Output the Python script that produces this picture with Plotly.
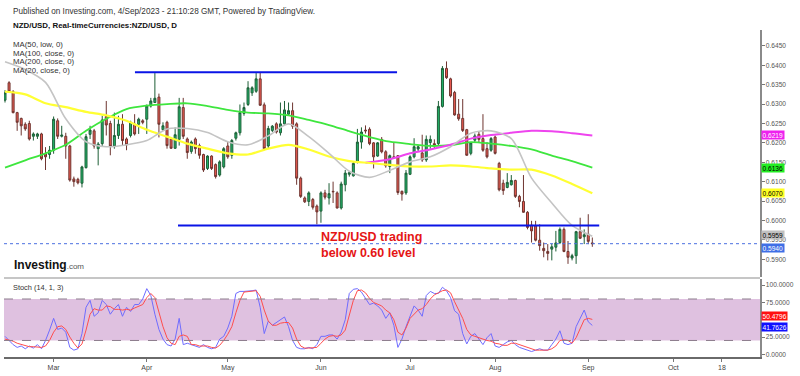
import pandas as pd
import plotly.graph_objects as go

# ---------------- data ----------------
dates = pd.bdate_range("2023-02-13", "2023-09-04")  # daily bars, 146

opens = [0.6310, 0.6355, 0.6332, 0.6278, 0.6263, 0.6248, 0.6250, 0.6217, 0.6217, 0.6223,
         0.6172, 0.6170, 0.6181, 0.6257, 0.6217, 0.6217, 0.6192, 0.6107, 0.6106, 0.6096,
         0.6136, 0.6222, 0.6231, 0.6185, 0.6198, 0.6268, 0.6250, 0.6192, 0.6219, 0.6248,
         0.6210, 0.6219, 0.6248, 0.6248, 0.6257, 0.6261, 0.6295, 0.6304, 0.6318, 0.6234,
         0.6253, 0.6210, 0.6186, 0.6209, 0.6291, 0.6210, 0.6178, 0.6210, 0.6193, 0.6170,
         0.6134, 0.6166, 0.6144, 0.6117, 0.6138, 0.6192, 0.6168, 0.6212, 0.6226, 0.6276,
         0.6299, 0.6329, 0.6333, 0.6365, 0.6298, 0.6192, 0.6232, 0.6249, 0.6226, 0.6249,
         0.6274, 0.6283, 0.6249, 0.6109, 0.6058, 0.6049, 0.6054, 0.6037, 0.6024, 0.6071,
         0.6058, 0.6075, 0.6071, 0.6032, 0.6092, 0.6119, 0.6115, 0.6151, 0.6202, 0.6233,
         0.6235, 0.6200, 0.6166, 0.6209, 0.6177, 0.6139, 0.6164, 0.6167, 0.6075, 0.6071,
         0.6119, 0.6164, 0.6184, 0.6174, 0.6156, 0.6201, 0.6198, 0.6198, 0.6294, 0.6392,
         0.6365, 0.6330, 0.6274, 0.6263, 0.6234, 0.6173, 0.6207, 0.6222, 0.6211, 0.6185,
         0.6181, 0.6215, 0.6147, 0.6096, 0.6085, 0.6092, 0.6103, 0.6062, 0.6049, 0.6021,
         0.5988, 0.5986, 0.5949, 0.5928, 0.5920, 0.5926, 0.5931, 0.5943, 0.5977, 0.5920,
         0.5903, 0.5909, 0.5971, 0.5958, 0.5965, 0.5942]
highs = [0.6336, 0.6359, 0.6336, 0.6280, 0.6265, 0.6253, 0.6257, 0.6227, 0.6226, 0.6226,
         0.6189, 0.6192, 0.6268, 0.6263, 0.6244, 0.6226, 0.6195, 0.6113, 0.6110, 0.6141,
         0.6223, 0.6244, 0.6236, 0.6202, 0.6270, 0.6308, 0.6257, 0.6278, 0.6270, 0.6274,
         0.6214, 0.6257, 0.6274, 0.6265, 0.6261, 0.6299, 0.6316, 0.6380, 0.6327, 0.6253,
         0.6257, 0.6214, 0.6240, 0.6316, 0.6316, 0.6214, 0.6206, 0.6214, 0.6198, 0.6172,
         0.6168, 0.6168, 0.6147, 0.6155, 0.6189, 0.6202, 0.6210, 0.6229, 0.6299, 0.6304,
         0.6359, 0.6346, 0.6380, 0.6382, 0.6304, 0.6244, 0.6246, 0.6253, 0.6304, 0.6308,
         0.6304, 0.6304, 0.6253, 0.6113, 0.6062, 0.6075, 0.6058, 0.6041, 0.6075, 0.6079,
         0.6096, 0.6100, 0.6075, 0.6100, 0.6130, 0.6127, 0.6151, 0.6236, 0.6240, 0.6245,
         0.6240, 0.6202, 0.6202, 0.6215, 0.6181, 0.6170, 0.6202, 0.6168, 0.6077, 0.6130,
         0.6168, 0.6212, 0.6194, 0.6221, 0.6219, 0.6219, 0.6209, 0.6308, 0.6398, 0.6410,
         0.6368, 0.6334, 0.6313, 0.6313, 0.6236, 0.6202, 0.6224, 0.6228, 0.6274, 0.6202,
         0.6215, 0.6219, 0.6151, 0.6105, 0.6122, 0.6117, 0.6105, 0.6066, 0.6117, 0.6024,
         0.5999, 0.5999, 0.5990, 0.5943, 0.5939, 0.5940, 0.5973, 0.5982, 0.5982, 0.5947,
         0.5914, 0.5973, 0.6007, 0.5977, 0.6016, 0.5956]
lows = [0.6304, 0.6329, 0.6276, 0.6231, 0.6219, 0.6231, 0.6206, 0.6206, 0.6210, 0.6155,
        0.6130, 0.6159, 0.6172, 0.6210, 0.6214, 0.6159, 0.6100, 0.6087, 0.6093, 0.6085,
        0.6134, 0.6210, 0.6185, 0.6142, 0.6192, 0.6219, 0.6168, 0.6185, 0.6210, 0.6193,
        0.6181, 0.6214, 0.6219, 0.6223, 0.6248, 0.6223, 0.6291, 0.6304, 0.6214, 0.6231,
        0.6185, 0.6185, 0.6185, 0.6193, 0.6210, 0.6159, 0.6172, 0.6172, 0.6159, 0.6125,
        0.6130, 0.6130, 0.6108, 0.6113, 0.6134, 0.6159, 0.6159, 0.6206, 0.6219, 0.6270,
        0.6295, 0.6321, 0.6329, 0.6295, 0.6181, 0.6185, 0.6228, 0.6224, 0.6219, 0.6245,
        0.6270, 0.6236, 0.6092, 0.6058, 0.6045, 0.6037, 0.6028, 0.5990, 0.5994, 0.6054,
        0.6041, 0.6045, 0.6031, 0.6028, 0.6075, 0.6113, 0.6113, 0.6147, 0.6185, 0.6224,
        0.6194, 0.6134, 0.6164, 0.6173, 0.6136, 0.6122, 0.6160, 0.6066, 0.6051, 0.6066,
        0.6117, 0.6160, 0.6177, 0.6151, 0.6151, 0.6185, 0.6185, 0.6194, 0.6291, 0.6365,
        0.6317, 0.6270, 0.6257, 0.6228, 0.6167, 0.6168, 0.6202, 0.6202, 0.6177, 0.6160,
        0.6177, 0.6170, 0.6075, 0.6066, 0.6083, 0.6090, 0.6058, 0.6034, 0.6020, 0.5977,
        0.5943, 0.5946, 0.5922, 0.5905, 0.5897, 0.5897, 0.5920, 0.5939, 0.5918, 0.5888,
        0.5897, 0.5888, 0.5952, 0.5939, 0.5939, 0.5932]
closes = [0.6329, 0.6332, 0.6278, 0.6253, 0.6244, 0.6236, 0.6210, 0.6223, 0.6223, 0.6159,
          0.6164, 0.6181, 0.6261, 0.6217, 0.6220, 0.6192, 0.6104, 0.6100, 0.6097, 0.6138,
          0.6216, 0.6233, 0.6192, 0.6197, 0.6259, 0.6246, 0.6191, 0.6219, 0.6248, 0.6206,
          0.6195, 0.6253, 0.6223, 0.6261, 0.6253, 0.6295, 0.6308, 0.6315, 0.6248, 0.6244,
          0.6193, 0.6186, 0.6221, 0.6293, 0.6217, 0.6175, 0.6202, 0.6185, 0.6168, 0.6130,
          0.6166, 0.6134, 0.6113, 0.6151, 0.6185, 0.6164, 0.6206, 0.6226, 0.6278, 0.6291,
          0.6342, 0.6342, 0.6365, 0.6297, 0.6185, 0.6237, 0.6243, 0.6228, 0.6249, 0.6285,
          0.6283, 0.6243, 0.6109, 0.6062, 0.6048, 0.6071, 0.6034, 0.6022, 0.6071, 0.6060,
          0.6069, 0.6074, 0.6032, 0.6094, 0.6122, 0.6123, 0.6147, 0.6202, 0.6228, 0.6231,
          0.6198, 0.6164, 0.6200, 0.6177, 0.6141, 0.6167, 0.6162, 0.6072, 0.6068, 0.6122,
          0.6164, 0.6190, 0.6190, 0.6156, 0.6209, 0.6209, 0.6194, 0.6294, 0.6392, 0.6368,
          0.6321, 0.6272, 0.6262, 0.6232, 0.6168, 0.6200, 0.6218, 0.6209, 0.6181, 0.6164,
          0.6211, 0.6173, 0.6079, 0.6077, 0.6098, 0.6103, 0.6062, 0.6049, 0.6021, 0.5982,
          0.5973, 0.5949, 0.5935, 0.5922, 0.5915, 0.5932, 0.5942, 0.5977, 0.5920, 0.5905,
          0.5909, 0.5971, 0.5954, 0.5963, 0.5946, 0.5940]

ma_idx = list(range(0, 146, 5))
ma50_low = [0.6332, 0.6325, 0.6302, 0.6292, 0.6280, 0.6271, 0.6257, 0.6234, 0.6216, 0.6198,
            0.6185, 0.6173, 0.6170, 0.6185, 0.6195, 0.6183, 0.6165, 0.6153, 0.6148, 0.6143,
            0.6139, 0.6139, 0.6142, 0.6139, 0.6134, 0.6131, 0.6131, 0.6116, 0.6094, 0.6070]
ma100 = [0.6136, 0.6155, 0.6173, 0.6195, 0.6231, 0.6262, 0.6287, 0.6296, 0.6300, 0.6302,
         0.6295, 0.6285, 0.6278, 0.6276, 0.6271, 0.6259, 0.6246, 0.6230, 0.6215, 0.6203,
         0.6197, 0.6192, 0.6194, 0.6202, 0.6198, 0.6192, 0.6183, 0.6167, 0.6153, 0.6136]
ma20 = [0.6409, 0.6389, 0.6356, 0.6262, 0.6203, 0.6190, 0.6195, 0.6206, 0.6236, 0.6237,
        0.6227, 0.6203, 0.6195, 0.6218, 0.6249, 0.6216, 0.6173, 0.6127, 0.6111, 0.6129,
        0.6151, 0.6164, 0.6190, 0.6225, 0.6231, 0.6211, 0.6109, 0.6045, 0.5987, 0.5959]
ma200_idx = [89, 95, 100, 105, 110, 115, 120, 125, 130, 135, 140, 145]
ma200 = [0.6149, 0.6158, 0.6173, 0.6183, 0.6195, 0.6211, 0.6220, 0.6226, 0.6231, 0.6230,
         0.6225, 0.6219]

stoch_k = [26, 20, 14, 10, 12, 8, 12, 9, 14, 8,
           20, 35, 52, 36, 38, 32, 10, 6, 8, 30,
           68, 78, 55, 60, 78, 72, 58, 66, 72, 55,
           68, 62, 72, 72, 80, 95, 85, 58, 36, 22,
           14, 12, 22, 52, 14, 16, 14, 12, 10, 14,
           10, 8, 10, 22, 26, 38, 55, 88, 91, 91,
           91, 92, 93, 68, 30, 48, 42, 46, 50, 54,
           40, 20, 10, 8, 8, 10, 8, 14, 26, 26,
           28, 28, 22, 32, 50, 88, 94, 95, 90, 80,
           72, 74, 70, 64, 52, 60, 42, 10, 22, 40,
           55, 70, 64, 55, 85, 91, 88, 88, 97, 92,
           82, 63, 58, 30, 15, 26, 30, 22, 14, 24,
           30, 12, 10, 14, 18, 20, 14, 10, 8, 6,
           4, 6, 8, 6, 6, 14, 22, 34, 16, 14,
           16, 40, 52, 64, 47, 41.7626]
stoch_d = [22, 21, 19, 16, 14, 12, 11, 11, 11, 10,
           12, 20, 32, 40, 41, 36, 25, 16, 9, 15,
           35, 58, 66, 64, 64, 70, 69, 65, 65, 64,
           65, 64, 67, 69, 72, 82, 88, 82, 62, 40,
           24, 16, 14, 26, 28, 26, 14, 14, 12, 12,
           12, 10, 9, 13, 20, 29, 40, 60, 78, 90,
           91, 91, 92, 84, 64, 48, 42, 42, 45, 46,
           46, 38, 22, 12, 9, 9, 9, 10, 16, 22,
           26, 27, 26, 28, 35, 56, 78, 92, 93, 89,
           81, 75, 72, 70, 64, 60, 50, 32, 28, 38,
           52, 58, 64, 66, 72, 80, 86, 89, 92, 93,
           89, 76, 64, 52, 36, 28, 26, 24, 21, 20,
           19, 16, 15, 13, 13, 16, 16, 14, 12, 10,
           7, 6, 6, 6, 6, 8, 12, 20, 21, 20,
           16, 24, 36, 50, 52, 50.4796]

# drawn support / resistance lines (date, date, price)
res_line = ["2023-03-29 02:00", "2023-06-27 19:00", 0.6382]
sup_line = ["2023-04-12 17:00", "2023-09-05 17:00", 0.5987]

price_ticks = [0.5900, 0.5950, 0.6000, 0.6050, 0.6100, 0.6150, 0.6200, 0.6250,
               0.6300, 0.6350, 0.6400, 0.6450]
stoch_ticks = [0, 25, 75, 100]
x_tick_dates = ["2023-03-01", "2023-04-03", "2023-05-01", "2023-06-01", "2023-07-03",
                "2023-08-01", "2023-09-01", "2023-10-02", "2023-10-18"]
x_tick_text = ["Mar", "Apr", "May", "Jun", "Jul", "Aug", "Sep", "Oct", "18"]

# ---------------- layout helpers ----------------
W, H = 800, 376
L, R, T, B = 4, 40, 30, 15
PW, PH = W - L - R, H - T - B


def px(x):
    return (x - L) / PW


def py(y):
    return (H - B - y) / PH


FONT = "Liberation Sans, Arial, sans-serif"
x_range = ["2023-02-10 18:00", "2023-10-31 09:36"]
rb = [dict(bounds=["sat", "mon"])]

fig = go.Figure()
fig.add_trace(go.Candlestick(
    x=dates, open=opens, high=highs, low=lows, close=closes,
    increasing=dict(line=dict(color="#1d5e36", width=1), fillcolor="#21b36a"),
    decreasing=dict(line=dict(color="#6e3530", width=1), fillcolor="#ee5a50"),
    xaxis="x", yaxis="y", showlegend=False, hoverinfo="skip"))


def ma_trace(idx, vals, color, width):
    return go.Scatter(x=[dates[i] for i in idx], y=vals, mode="lines",
                      line=dict(color=color, width=width, shape="spline", smoothing=0.8),
                      xaxis="x", yaxis="y", showlegend=False, hoverinfo="skip")


fig.add_trace(ma_trace(ma_idx, ma100, "#3ee63e", 1.8))
fig.add_trace(ma_trace(ma200_idx, ma200, "#ee44ee", 2))
fig.add_trace(ma_trace(ma_idx, ma50_low, "#ffff33", 2.2))
fig.add_trace(ma_trace(ma_idx, ma20, "#c4c4c4", 1.6))

fig.add_trace(go.Scatter(x=dates, y=stoch_k, mode="lines", line=dict(color="#6f6cff", width=1),
                         xaxis="x2", yaxis="y2", showlegend=False, hoverinfo="skip"))
fig.add_trace(go.Scatter(x=dates, y=stoch_d, mode="lines", line=dict(color="#ff4d4d", width=1),
                         xaxis="x2", yaxis="y2", showlegend=False, hoverinfo="skip"))

main_dom = [py(280), 1]
stoch_dom = [0, py(282)]

shapes = [
    dict(type="rect", xref="paper", yref="y2", x0=0, x1=1, y0=20, y1=80,
         fillcolor="#dfc1e0", line=dict(width=0), layer="below"),
    dict(type="line", xref="paper", yref="y2", x0=0, x1=1, y0=80, y1=80,
         line=dict(color="#8c7c8c", width=1, dash="dash")),
    dict(type="line", xref="paper", yref="y2", x0=0, x1=1, y0=20, y1=20,
         line=dict(color="#8c7c8c", width=1, dash="dash")),
    dict(type="line", xref="paper", yref="paper", x0=0, x1=1, y0=py(281), y1=py(281),
         line=dict(color="#c6c6c6", width=2)),
    dict(type="line", xref="x", yref="y", x0=res_line[0], x1=res_line[1],
         y0=res_line[2], y1=res_line[2], line=dict(color="#0a14e6", width=2)),
    dict(type="line", xref="x", yref="y", x0=sup_line[0], x1=sup_line[1],
         y0=sup_line[2], y1=sup_line[2], line=dict(color="#0a14e6", width=2)),
    dict(type="line", xref="paper", yref="y", x0=0, x1=1, y0=closes[-1], y1=closes[-1],
         line=dict(color="#4a6fe0", width=1, dash="dot")),
]


def txt(x, y, text, size, color="#222", bold=False, xanchor="left"):
    return dict(xref="paper", yref="paper", x=px(x), y=py(y),
                text=(f"<b>{text}</b>" if bold else text),
                showarrow=False, xanchor=xanchor, yanchor="middle", align="left",
                font=dict(family=FONT, size=size, color=color))


annotations = [
    txt(11, 11, "Published on Investing.com, 4/Sep/2023 - 21:10:28 GMT, Powered by TradingView.", 8.2, "#333"),
    txt(11, 25, "NZD/USD, Real-timeCurrencies:NZD/USD, D", 7.9, "#111", bold=True),
    txt(11, 45, "MA(50, low, 0)", 7.8, "#333"),
    txt(11, 53.5, "MA(100, close, 0)", 7.8, "#333"),
    txt(11, 62, "MA(200, close, 0)", 7.8, "#333"),
    txt(11, 70.5, "MA(20, close, 0)", 7.8, "#333"),
    txt(11, 291, "Stoch (14, 1, 3)", 7.4, "#333"),
    dict(xref="paper", yref="paper", x=px(12), y=py(268),
         text="<b>Investing</b><span style='font-size:8px;color:#555'>.com</span>",
         showarrow=False, xanchor="left", yanchor="middle",
         font=dict(family=FONT, size=12, color="#111")),
    dict(xref="paper", yref="paper", x=px(319), y=py(247.5),
         text="<b>NZD/USD trading<br>below 0.60 level</b>", showarrow=False,
         xanchor="left", yanchor="middle", align="left",
         font=dict(family=FONT, size=12.5, color="#e51515")),
]


def badge(val, yref, bg, fg, fmt, yshift=0):
    return dict(xref="paper", yref=yref, x=1, y=val, xanchor="left", yanchor="middle",
                xshift=1, yshift=yshift, text=format(val, fmt), showarrow=False,
                bgcolor=bg, borderpad=0.5, font=dict(family=FONT, size=6.6, color=fg))


annotations += [
    badge(ma200[-1], "y", "#ee22ee", "#ffffff", ".4f"),
    badge(ma100[-1], "y", "#22ee22", "#000000", ".4f"),
    badge(ma50_low[-1], "y", "#ffff22", "#000000", ".4f"),
    badge(ma20[-1], "y", "#c0c0c0", "#000000", ".4f", yshift=1.5),
    badge(closes[-1], "y", "#3f6fe6", "#ffffff", ".4f", yshift=-4),
    badge(stoch_d[-1], "y2", "#ff1010", "#ffffff", ".4f", yshift=3),
    badge(stoch_k[-1], "y2", "#1010ff", "#ffffff", ".4f", yshift=-1.5),
]

axis_common = dict(showgrid=False, zeroline=False)
fig.update_layout(
    width=W, height=H, margin=dict(l=L, r=R, t=T, b=B),
    paper_bgcolor="white", plot_bgcolor="white",
    font=dict(family=FONT, size=7, color="#444"),
    xaxis=dict(domain=[0, 1], anchor="y", range=x_range, rangebreaks=rb,
               showticklabels=False, showline=False, ticks="",
               rangeslider=dict(visible=False), **axis_common),
    xaxis2=dict(domain=[0, 1], anchor="y2", matches="x", range=x_range, rangebreaks=rb,
                tickmode="array", tickvals=x_tick_dates, ticktext=x_tick_text,
                ticks="outside", ticklen=3, tickcolor="#777", showline=True,
                linecolor="#6a6a6a", linewidth=1.5,
                tickfont=dict(family=FONT, size=7, color="#444"), **axis_common),
    yaxis=dict(domain=main_dom, anchor="x", side="right", range=[0.58542, 0.6491],
               tickmode="array", tickvals=price_ticks, tickformat=".4f",
               ticks="outside", ticklen=3, tickcolor="#777", showline=True,
               linecolor="#8a8a8a", linewidth=1.5,
               tickfont=dict(family=FONT, size=6.6, color="#555"), **axis_common),
    yaxis2=dict(domain=stoch_dom, anchor="x2", side="right", range=[-3.9, 109],
                tickmode="array", tickvals=stoch_ticks, tickformat=".4f",
                ticks="outside", ticklen=3, tickcolor="#777", showline=True,
                linecolor="#8a8a8a", linewidth=1.5,
                tickfont=dict(family=FONT, size=6.6, color="#555"), **axis_common),
    shapes=shapes, annotations=annotations, hovermode=False,
)

fig.write_html("out.html", config={"displayModeBar": False, "staticPlot": True},
               post_script="document.body.style.margin='0';document.body.style.padding='0';")
